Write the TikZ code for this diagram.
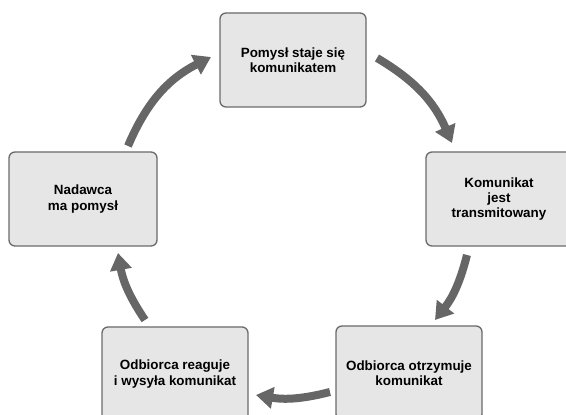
\documentclass[tikz,border=0pt]{standalone}
\usepackage{fontspec}
\setmainfont{Liberation Sans}
\usetikzlibrary{arrows.meta}
\definecolor{boxfill}{HTML}{E6E6E6}
\definecolor{boxline}{HTML}{6A6A6A}
\definecolor{arrowcol}{HTML}{666666}
\tikzset{
  stagebox/.style={draw=boxline, line width=1.3pt, fill=boxfill, rounded corners=6pt,
    minimum width=146pt, minimum height=94pt, align=center, inner sep=2pt,
    font=\fontsize{13.4}{15.4}\selectfont\bfseries},
  flow/.style={draw=arrowcol, line width=8pt, -{Triangle[width=21pt,length=17pt]}, bend left=#1},
  flow/.default=15
}
\begin{document}
\begin{tikzpicture}[x=1pt,y=1pt]
\useasboundingbox (0,0) rectangle (566,415);
\clip (0,0) rectangle (566,415);
\fill[white] (0,0) rectangle (566,415);
\node[stagebox] (top) at (293,355) {Pomysł staje się\\komunikatem};
\node[stagebox] (right) at (499,216) {Komunikat\\jest\\transmitowany};
\node[stagebox] (br) at (409,42) {Odbiorca otrzymuje\\komunikat};
\node[stagebox] (bl) at (175,41) {Odbiorca reaguje\\i wysyła komunikat};
\node[stagebox, minimum width=148pt] (left) at (83,216) {Nadawca\\ma pomysł};
\coordinate (a1s) at (128,269);
\coordinate (a1e) at (211,358);
\coordinate (a2s) at (377,357);
\coordinate (a2e) at (452,272);
\coordinate (a3s) at (467,160);
\coordinate (a3e) at (435,95);
\coordinate (a4s) at (330,23);
\coordinate (a4e) at (256,20);
\coordinate (a5s) at (145,95);
\coordinate (a5e) at (118,162);
\draw[flow=20] (a1s) to (a1e);
\draw[flow=18] (a2s) to (a2e);
\draw[flow=12] (a3s) to (a3e);
\draw[flow=12] (a4s) to (a4e);
\draw[flow=12] (a5s) to (a5e);
\end{tikzpicture}
\end{document}
